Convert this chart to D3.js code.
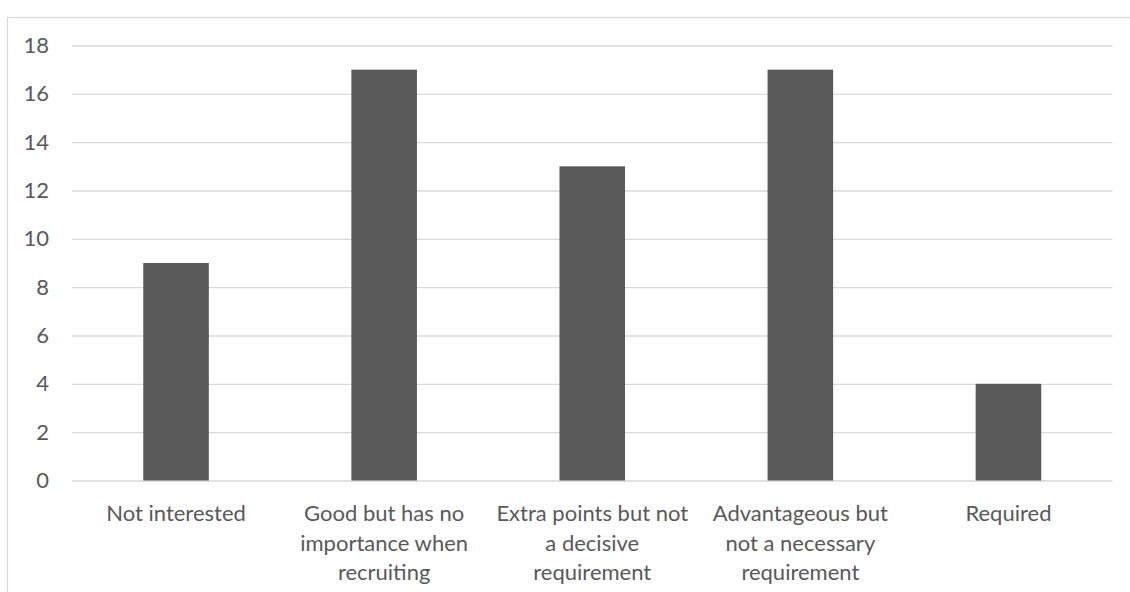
<!DOCTYPE html>
<html>
<head>
<meta charset="utf-8">
<script src="https://cdn.jsdelivr.net/npm/d3@7"></script>
<style>
  html, body { margin: 0; padding: 0; background: #ffffff; }
  svg { display: block; }
  text { font-family: Lato, "Open Sans", sans-serif; fill: #595959; }
</style>
</head>
<body>
<svg id="chart" width="1130" height="592"></svg>
<script>
// Survey answers and how many respondents chose each
const categories = [
  "Not interested",
  "Good but has no importance when recruiting",
  "Extra points but not a decisive requirement",
  "Advantageous but not a necessary requirement",
  "Required"
];
// Category labels broken onto lines as they appear under the axis
const categoryLines = [
  ["Not interested"],
  ["Good but has no", "importance when", "recruiting"],
  ["Extra points but not", "a decisive", "requirement"],
  ["Advantageous but", "not a necessary", "requirement"],
  ["Required"]
];
const counts = [9, 17, 13, 17, 4];
const yTicks = [0, 2, 4, 6, 8, 10, 12, 14, 16, 18];

const svg = d3.select("#chart");
const plot = { left: 72, right: 1112.5, top: 45.5, bottom: 480.5 };

// Chart frame (runs past the right and bottom edges)
svg.append("rect")
  .attr("x", 7.5).attr("y", 17.5)
  .attr("width", 1140).attr("height", 600)
  .attr("fill", "none")
  .attr("stroke", "#d9d9d9")
  .attr("stroke-width", 1.2);

const x = d3.scaleBand()
  .domain(categories)
  .range([plot.left, plot.right])
  .paddingInner(0.685)
  .paddingOuter(0.3425);

const y = d3.scaleLinear()
  .domain([0, 18])
  .range([plot.bottom, plot.top]);

// Horizontal gridlines and value labels
const yAxis = d3.axisLeft(y)
  .tickValues(yTicks)
  .tickSize(-(plot.right - plot.left))
  .tickPadding(23);

const gy = svg.append("g")
  .attr("transform", `translate(${plot.left},0)`)
  .call(yAxis);
gy.select(".domain").remove();
gy.selectAll(".tick line")
  .attr("stroke", "#d9d9d9")
  .attr("stroke-width", 1.3);
gy.selectAll(".tick text")
  .attr("font-size", 22)
  .attr("font-family", "Lato, 'Open Sans', sans-serif")
  .attr("fill", "#595959");

// Bars
svg.append("g")
  .selectAll("rect")
  .data(categories)
  .join("rect")
  .attr("x", d => x(d))
  .attr("width", x.bandwidth())
  .attr("y", (d, i) => y(counts[i]))
  .attr("height", (d, i) => y(0) - y(counts[i]))
  .attr("fill", "#595959");

// Category labels beneath the axis
const labels = svg.append("g")
  .selectAll("text")
  .data(categories)
  .join("text")
  .attr("text-anchor", "middle")
  .attr("font-size", 22)
  .attr("x", d => x(d) + x.bandwidth() / 2)
  .attr("y", 521);

labels.each(function(d, i) {
  d3.select(this).selectAll("tspan")
    .data(categoryLines[i])
    .join("tspan")
    .attr("x", x(d) + x.bandwidth() / 2)
    .attr("dy", (t, j) => j === 0 ? 0 : 29.5)
    .text(t => t);
});
</script>
</body>
</html>
